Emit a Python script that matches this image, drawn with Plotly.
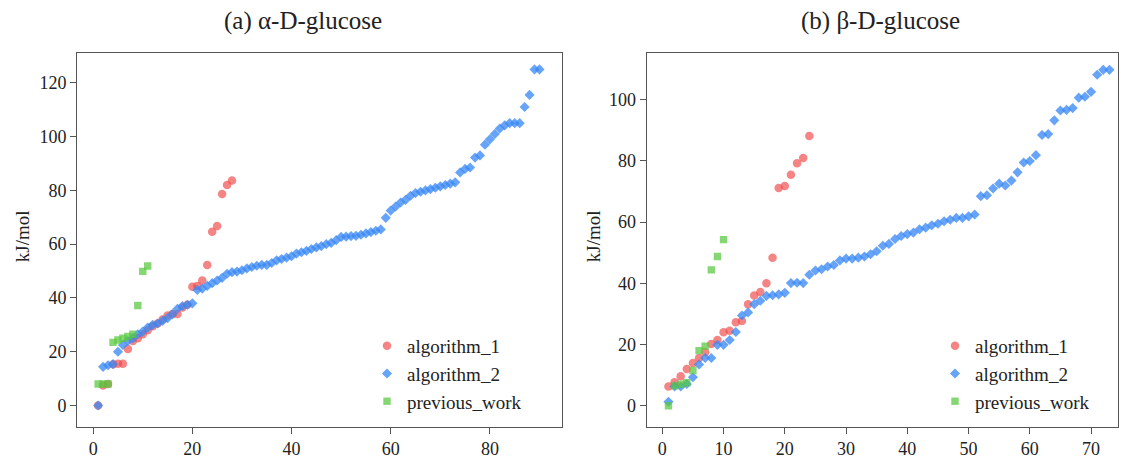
import plotly.graph_objects as go

# ---------------- data ----------------
# (a) alpha-D-glucose
a_alg1 = [0, 7.5, 8, 15.4, 15.5, 15.5, 21, 24, 25, 26.5, 28, 29.5, 30.5, 32, 33.5,
          34, 34, 36.5, 37.5, 44.2, 44.5, 46.5, 52.3, 64.6, 66.8, 78.7, 82, 83.7]
a_alg2 = [0, 14.4, 15, 15.4, 20, 22.5, 24, 25, 26.5, 27.5, 29, 30, 30.5, 31.5, 32.5,
          34, 36, 37, 37.5, 38, 43, 43.5, 44.5, 45.5, 46.5, 47.5, 49, 49.6, 49.8, 50.3,
          51, 51.5, 52, 52.3, 52.3, 53, 54, 54.5, 55, 55.5, 56.5, 57, 57.5, 58.2, 58.8,
          59.3, 60, 60.5, 61.5, 62.7, 62.8, 63, 63.1, 63.5, 64, 64.5, 65, 65.5, 69.8, 72.5,
          74, 75.5, 76.5, 78, 79, 79.5, 80, 80.5, 81, 81.5, 82, 82.5, 83, 86.7, 88,
          88.5, 92.2, 93, 97, 99, 101, 103, 104.2, 105, 105, 105, 111, 115.5, 125, 125]
a_prev = [8, 8, 8, 23.5, 24.4, 25, 25.7, 26.5, 37.2, 49.9, 51.9]

# (b) beta-D-glucose
b_alg1 = [6.3, 7.7, 9.6, 12, 14, 15.6, 17.5, 20.2, 21.5, 24, 24.5, 27.3, 27.7, 33.2,
          36, 37.2, 40, 48.4, 71.2, 71.8, 75.5, 79.3, 81, 88.2]
b_alg2 = [1.3, 6.3, 6.3, 7.1, 9.3, 13.5, 15.6, 15.6, 19.9, 19.9, 21.5, 24.1, 29.5, 30.5,
          33.2, 34.3, 35.9, 36.1, 36.4, 36.9, 40.1, 40.2, 40.1, 42.8, 44.2, 44.6, 45.5,
          46, 47.5, 48.1, 48.1, 48.4, 48.8, 49.5, 50.5, 52.3, 52.9, 54.5, 55.5, 56.1,
          56.6, 57.7, 58.2, 59, 59.5, 60.3, 60.8, 61.4, 61.4, 61.9, 62.5, 68.5, 68.8,
          71, 72.6, 72, 73.6, 76.3, 79.5, 80, 81.9, 88.5, 88.8, 93.3, 96.5, 96.7, 97.3,
          100.7, 101, 102.6, 108.2, 109.8, 109.8]
b_prev = [0, 6.5, 7, 7.5, 11.5, 18, 19.5, 44.4, 48.8, 54.3]

series_names = ["algorithm_1", "algorithm_2", "previous_work"]
panel_titles = ["(a) α-D-glucose", "(b) β-D-glucose"]
y_label = "kJ/mol"

# ---------------- style ----------------
FONT = "Liberation Serif, Times New Roman, serif"
TXT = "#222222"
AX = "#555555"
styles = [
    dict(color="rgba(240,70,70,0.66)", symbol="circle", size=8.5),
    dict(color="rgba(55,135,245,0.76)", symbol="diamond", size=7.8),
    dict(color="rgba(85,200,60,0.72)", symbol="square", size=7.4),
]

W, H = 1121, 459
fig = go.Figure()

panels = [
    dict(data=[a_alg1, a_alg2, a_prev], xa="x", ya="y", legend="legend"),
    dict(data=[b_alg1, b_alg2, b_prev], xa="x2", ya="y2", legend="legend2"),
]
for p in panels:
    for name, vals, st in zip(series_names, p["data"], styles):
        fig.add_trace(go.Scatter(
            x=list(range(1, len(vals) + 1)), y=vals, mode="markers", name=name,
            marker=dict(color=st["color"], symbol=st["symbol"], size=st["size"],
                        line=dict(width=0)),
            xaxis=p["xa"], yaxis=p["ya"], legend=p["legend"],
        ))

def px(xp):
    return xp / W

def py(yp):
    return 1 - yp / H

ydom = [py(437), py(54)]
axis_common = dict(showgrid=False, zeroline=False, showline=True, linecolor=AX,
                   linewidth=1.3, mirror=True, ticks="outside", ticklen=6,
                   tickcolor=AX, tickwidth=1.3,
                   tickfont=dict(family=FONT, size=18, color=TXT))

legend_common = dict(xanchor="left", yanchor="top", bgcolor="rgba(0,0,0,0)",
                     font=dict(family=FONT, size=19, color=TXT),
                     tracegroupgap=0, itemsizing="trace")

fig.update_layout(
    width=W, height=H, autosize=False,
    margin=dict(l=0, r=0, t=0, b=0),
    paper_bgcolor="white", plot_bgcolor="white",
    xaxis=dict(domain=[px(77.3), px(562.3)], range=[-3.2, 94.6],
               tickvals=[0, 20, 40, 60, 80], anchor="y", **axis_common),
    yaxis=dict(domain=ydom, range=[-7.8, 131.2],
               tickvals=[0, 20, 40, 60, 80, 100, 120], anchor="x", **axis_common),
    xaxis2=dict(domain=[px(646.7), px(1118)], range=[-2.55, 74.4],
                tickvals=[0, 10, 20, 30, 40, 50, 60, 70], anchor="y2", **axis_common),
    yaxis2=dict(domain=ydom, range=[-6.8, 115.4],
                tickvals=[0, 20, 40, 60, 80, 100], anchor="x2", **axis_common),
    legend=dict(x=px(367), y=py(335), **legend_common),
    legend2=dict(x=px(935), y=py(335), **legend_common),
    showlegend=True,
)

annotations = [
    dict(text=panel_titles[0], x=px(303), y=py(22)),
    dict(text=panel_titles[1], x=px(880), y=py(22)),
]
annotations = [dict(a, xref="paper", yref="paper", showarrow=False,
                    xanchor="center", yanchor="middle",
                    font=dict(family=FONT, size=25, color=TXT)) for a in annotations]
for xp in (22, 593):
    annotations.append(dict(text=y_label, x=px(xp), y=py(242), xref="paper",
                            yref="paper", showarrow=False, textangle=-90,
                            xanchor="center", yanchor="middle",
                            font=dict(family=FONT, size=19, color=TXT)))
fig.update_layout(annotations=annotations)

fig.write_html(
    "out.html",
    config={"displayModeBar": False},
    post_script="document.body.style.margin='0px';document.body.style.padding='0px';"
                "document.body.style.overflow='hidden';",
)
